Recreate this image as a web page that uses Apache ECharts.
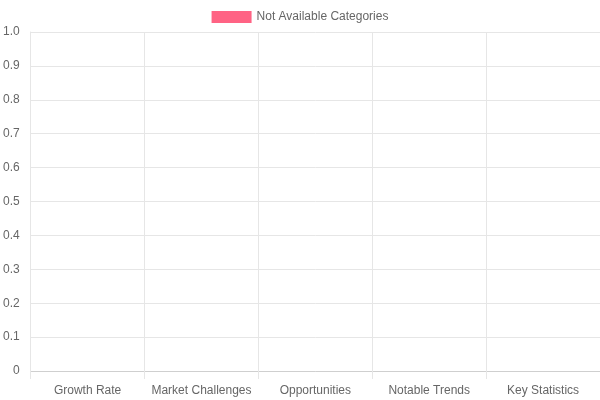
<!DOCTYPE html>
<html>
<head>
<meta charset="utf-8">
<script src="https://cdn.jsdelivr.net/npm/echarts@6/dist/echarts.min.js"></script>
<style>
  html, body { margin: 0; padding: 0; background: #fff; }
  #chart { width: 600px; height: 400px; }
</style>
</head>
<body>
<div id="chart"></div>
<script>
const categories = ['Growth Rate', 'Market Challenges', 'Opportunities', 'Notable Trends', 'Key Statistics']
const seriesName = 'Not Available Categories'
const values = [0, 0, 0, 0, 0]

const chart = echarts.init(document.getElementById('chart'))
const font = "'Liberation Sans', Arial, Helvetica, sans-serif"
const gridColor = '#e6e6e6'

chart.setOption({
  animation: false,
  textStyle: { fontFamily: font },
  legend: {
    top: 6,
    left: 'center',
    itemWidth: 40,
    itemHeight: 12,
    itemGap: 10,
    icon: 'rect',
    textStyle: { color: '#666', fontSize: 12, fontFamily: font },
    data: [seriesName]
  },
  grid: { left: 30, right: 0, top: 32, bottom: 29, containLabel: false },
  xAxis: {
    type: 'category',
    data: categories,
    boundaryGap: true,
    axisLine: { show: true, lineStyle: { color: '#cfcfcf' } },
    axisTick: { show: true, interval: 0, length: 8, lineStyle: { color: gridColor } },
    splitLine: { show: true, interval: 0, lineStyle: { color: gridColor } },
    axisLabel: { color: '#666', fontSize: 12, margin: 14, interval: 0, fontFamily: font }
  },
  yAxis: {
    type: 'value',
    min: 0,
    max: 1,
    interval: 0.1,
    axisLine: { show: true, lineStyle: { color: gridColor } },
    axisTick: { show: false },
    splitLine: { show: true, lineStyle: { color: gridColor } },
    axisLabel: {
      color: '#666',
      fontSize: 12,
      margin: 11,
      fontFamily: font,
      formatter: v => (v === 0 ? '0' : v.toFixed(1))
    }
  },
  series: [
    {
      name: seriesName,
      type: 'bar',
      data: values,
      barWidth: '80%',
      itemStyle: { color: '#ff6384' }
    }
  ]
})
</script>
</body>
</html>
